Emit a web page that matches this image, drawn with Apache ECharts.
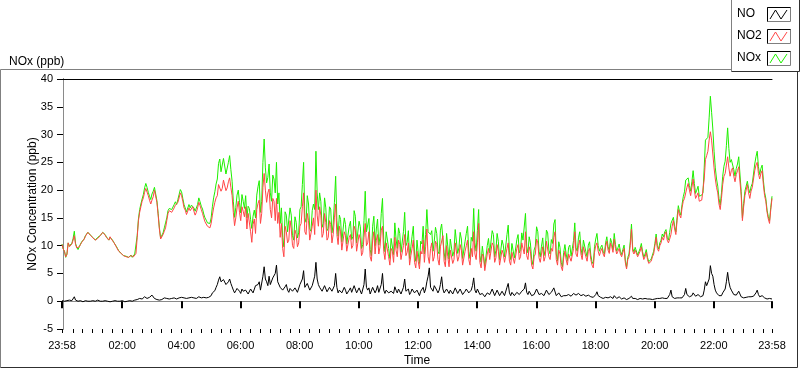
<!DOCTYPE html>
<html><head><meta charset="utf-8">
<script src="https://cdn.jsdelivr.net/npm/echarts@6/dist/echarts.min.js"></script>
<style>html,body{margin:0;padding:0;background:#fff}#c{width:800px;height:369px}</style>
</head><body><div id="c"></div>
<script>
// time of first sample in minutes from 00:00 (23:58 of previous day), one sample every 2.5 min
const START_MIN = -2;
const STEP_MIN = 2.5;
const END_MIN = 1438;

const seriesNames = ['NO', 'NO2', 'NOx'];
const majorTickMinutes = [-2, 120, 240, 360, 480, 600, 720, 840, 960, 1080, 1200, 1320, 1438];
const majorTickLabels = ['23:58', '02:00', '04:00', '06:00', '08:00', '10:00', '12:00', '14:00', '16:00', '18:00', '20:00', '22:00', '23:58'];
const yTicks = [-5, 0, 5, 10, 15, 20, 25, 30, 35, 40];

const NO2 = [
10.2, 9.4, 9.0, 8.0, 8.4, 10.5, 9.8, 10.0, 10.3, 11.0, 11.8, 10.2, 9.6, 9.3, 9.8, 10.2, 10.6, 10.9, 11.2, 11.7, 12.0, 12.4, 12.3, 11.9,
11.6, 11.4, 11.3, 11.0, 11.0, 11.3, 11.4, 11.8, 11.9, 12.4, 12.3, 11.9, 11.5, 11.3, 11.0, 11.6, 11.2, 11.0, 10.6, 10.3, 9.8, 9.5, 9.0, 8.8,
8.6, 8.4, 8.2, 8.1, 8.0, 7.8, 7.9, 8.1, 8.2, 7.9, 8.0, 8.3, 8.6, 11.5, 14.5, 16.0, 17.0, 18.0, 18.6, 19.6, 20.3, 20.0, 19.0, 18.2,
17.5, 18.2, 18.8, 20.0, 19.9, 17.8, 15.5, 13.0, 11.2, 10.9, 12.0, 12.6, 13.2, 14.5, 15.8, 16.3, 16.5, 16.0, 16.2, 16.8, 17.3, 17.0, 17.8, 18.6,
19.5, 19.0, 18.0, 16.8, 16.4, 15.6, 15.8, 16.8, 16.3, 16.6, 17.0, 16.2, 15.5, 16.0, 16.8, 17.8, 17.2, 16.5, 15.8, 15.0, 14.3, 14.0, 13.5, 13.3,
13.2, 14.0, 15.5, 16.8, 17.8, 18.6, 19.0, 21.0, 21.2, 19.8, 20.3, 21.8, 21.6, 19.9, 20.4, 21.5, 22.2, 20.5, 19.0, 16.0, 13.6, 15.0, 16.8, 18.0,
16.0, 14.5, 17.0, 16.2, 15.2, 17.0, 13.0, 15.8, 15.5, 12.5, 10.6, 13.8, 14.8, 12.2, 16.5, 17.6, 18.2, 14.0, 15.8, 20.5, 23.0, 20.0, 17.8, 19.5,
20.2, 16.5, 15.0, 18.5, 18.0, 14.5, 18.5, 14.0, 16.0, 11.5, 14.0, 9.5, 8.0, 13.5, 12.5, 10.5, 11.0, 14.5, 13.0, 10.0, 9.5, 12.8, 12.0, 9.8,
10.5, 13.5, 14.0, 17.0, 19.5, 12.5, 12.0, 15.8, 14.5, 11.0, 10.8, 13.5, 15.0, 12.0, 20.0, 15.5, 13.5, 17.0, 15.5, 11.5, 12.2, 15.8, 14.2, 11.0,
11.5, 14.5, 13.8, 10.5, 12.0, 15.0, 17.5, 12.0, 10.2, 13.5, 12.5, 9.2, 9.5, 12.5, 11.8, 9.0, 9.2, 11.5, 12.0, 9.5, 10.0, 13.5, 12.8, 9.0,
9.0, 12.0, 11.2, 8.2, 8.8, 11.5, 14.0, 10.0, 10.5, 12.5, 8.0, 7.2, 11.0, 12.5, 8.5, 11.0, 12.0, 8.5, 9.8, 12.8, 13.5, 9.0, 7.5, 10.5,
10.5, 8.0, 6.5, 9.5, 9.0, 7.0, 11.5, 9.2, 8.0, 11.0, 10.2, 7.5, 7.5, 10.0, 12.0, 8.2, 8.8, 10.5, 6.5, 8.2, 9.5, 11.0, 7.0, 6.0,
9.0, 7.2, 5.8, 9.0, 8.5, 11.0, 7.0, 9.8, 13.0, 8.0, 6.8, 9.5, 10.5, 7.2, 8.0, 10.8, 10.2, 7.5, 6.5, 9.8, 9.5, 11.8, 7.2, 6.2,
10.0, 8.0, 6.2, 9.2, 9.0, 6.8, 7.5, 10.5, 10.5, 7.2, 8.0, 10.2, 9.2, 6.5, 6.8, 9.0, 10.0, 11.0, 7.5, 6.5, 9.5, 8.0, 12.5, 8.5,
7.5, 10.5, 14.0, 7.0, 6.0, 8.5, 8.0, 5.5, 5.8, 8.5, 9.5, 7.5, 7.2, 10.5, 10.0, 7.0, 7.8, 10.2, 9.0, 6.5, 6.8, 9.2, 8.5, 7.0,
7.0, 9.5, 10.5, 7.2, 6.5, 8.8, 9.0, 6.8, 7.0, 9.5, 10.2, 7.5, 8.0, 10.5, 9.5, 8.5, 12.5, 8.2, 7.5, 9.8, 9.0, 6.5, 5.8, 8.0,
8.5, 11.2, 10.5, 7.8, 7.0, 8.5, 9.8, 7.2, 8.0, 10.8, 10.5, 8.0, 7.5, 9.5, 9.0, 11.5, 12.5, 7.5, 6.5, 9.2, 8.5, 6.2, 5.5, 7.8,
9.0, 7.5, 6.5, 8.5, 8.8, 7.2, 7.0, 9.5, 12.5, 8.5, 8.0, 10.0, 11.0, 8.5, 7.5, 9.8, 10.0, 8.0, 7.2, 9.0, 9.5, 7.5, 6.5, 6.0,
8.8, 10.0, 10.5, 9.0, 8.2, 9.0, 9.5, 8.5, 8.0, 9.8, 10.8, 9.2, 8.6, 10.5, 9.8, 8.8, 11.2, 9.5, 8.5, 9.0, 9.5, 8.5, 8.0, 8.8,
9.5, 7.0, 5.8, 7.5, 8.0, 10.0, 13.0, 9.0, 8.5, 9.2, 9.5, 8.0, 8.2, 9.0, 9.8, 8.5, 7.5, 8.0, 8.8, 7.5, 6.8, 7.0, 7.2, 8.0,
8.5, 10.0, 11.5, 9.5, 9.0, 10.0, 10.5, 11.5, 11.0, 12.0, 12.5, 11.0, 10.5, 11.2, 12.0, 13.5, 14.5, 13.0, 12.0, 14.5, 16.5, 15.5, 15.0, 16.8,
18.0, 18.5, 19.5, 20.5, 21.2, 20.0, 19.0, 20.5, 22.0, 20.0, 18.5, 19.0, 19.5, 18.0, 17.8, 18.2, 18.5, 22.0, 25.5, 26.2, 27.0, 29.0, 30.5, 29.0,
26.5, 24.0, 22.0, 20.5, 19.5, 17.5, 16.5, 18.5, 21.0, 22.5, 23.0, 24.5, 26.0, 24.0, 22.5, 23.5, 24.0, 22.5, 21.5, 22.8, 23.5, 24.2, 24.5, 19.0,
14.5, 17.0, 19.0, 20.0, 21.0, 19.5, 18.5, 19.8, 20.5, 22.0, 23.5, 24.5, 25.0, 23.0, 22.0, 23.0, 23.5, 21.0, 19.0, 18.0, 16.0, 14.8, 14.0, 16.5,
18.5
];

const NO = [
0.1, 0.0, 0.0, -0.1, 0.1, 0.0, 0.2, 0.1, 0.1, 0.3, 0.8, 0.2, 0.1, 0.0, 0.0, 0.1, 0.1, -0.1, 0.0, 0.1, 0.1, 0.0, 0.1, 0.0,
0.0, 0.1, 0.1, 0.0, 0.0, 0.2, 0.1, 0.0, 0.1, 0.0, 0.0, 0.1, 0.1, 0.0, 0.0, -0.1, 0.1, 0.0, 0.0, 0.1, 0.1, 0.0, 0.1, 0.0,
0.0, 0.1, 0.0, -0.1, 0.1, 0.0, 0.0, 0.1, 0.1, 0.0, 0.1, 0.2, 0.2, 0.3, 0.3, 0.5, 0.5, 0.4, 0.6, 0.8, 0.9, 0.5, 0.6, 0.7,
0.8, 1.1, 1.0, 0.5, 0.4, 0.3, 0.3, 0.2, 0.2, 0.3, 0.3, 0.6, 0.9, 0.5, 0.5, 0.4, 0.4, 0.5, 0.5, 0.6, 0.6, 0.4, 0.5, 0.6,
0.6, 0.7, 0.5, 0.6, 0.7, 0.5, 0.6, 0.6, 0.5, 0.7, 0.6, 0.6, 0.7, 0.5, 0.6, 0.8, 0.7, 0.6, 0.8, 0.7, 0.7, 0.6, 0.6, 0.7,
0.8, 1.0, 1.5, 1.8, 1.9, 2.5, 3.0, 3.8, 4.4, 3.5, 3.2, 3.9, 3.8, 3.0, 2.8, 3.5, 4.0, 3.2, 2.6, 2.0, 1.5, 1.9, 2.3, 2.0,
1.8, 1.4, 2.2, 1.8, 1.5, 2.0, 2.0, 1.3, 1.2, 2.2, 2.5, 1.5, 1.6, 2.8, 2.6, 3.0, 3.5, 2.0, 2.2, 4.5, 6.2, 4.0, 3.5, 2.8,
4.5, 3.0, 3.0, 4.2, 4.0, 5.0, 6.5, 3.5, 3.5, 2.5, 2.8, 2.0, 1.8, 2.6, 3.0, 2.0, 1.6, 2.3, 2.5, 1.8, 1.5, 2.4, 2.2, 1.6,
1.8, 3.0, 3.0, 4.0, 5.5, 2.5, 2.2, 3.2, 3.0, 2.0, 1.8, 2.8, 2.5, 4.5, 7.0, 4.0, 3.0, 2.5, 2.4, 1.8, 1.8, 2.8, 2.6, 1.7,
1.6, 2.5, 2.8, 1.8, 1.9, 2.8, 5.0, 2.5, 1.5, 2.0, 2.2, 1.5, 1.4, 2.5, 2.0, 1.3, 1.2, 2.0, 2.4, 1.6, 1.6, 2.8, 2.5, 1.5,
1.5, 2.4, 2.2, 1.3, 1.4, 3.0, 5.8, 2.5, 2.0, 2.4, 1.3, 1.0, 2.5, 2.8, 1.5, 2.0, 2.8, 1.6, 1.8, 3.0, 5.0, 2.0, 1.4, 2.0,
2.2, 1.5, 1.2, 1.8, 2.0, 1.4, 2.6, 2.0, 1.5, 2.2, 2.0, 1.3, 1.3, 2.5, 4.0, 1.8, 1.8, 2.2, 1.2, 1.6, 2.2, 2.5, 1.5, 1.2,
2.0, 1.5, 1.0, 1.8, 1.8, 2.5, 1.5, 2.2, 3.5, 4.5, 6.0, 2.5, 2.2, 1.8, 2.8, 2.5, 2.0, 1.5, 2.0, 3.0, 4.4, 2.2, 1.5, 1.2,
2.2, 1.8, 1.4, 2.0, 2.0, 1.3, 1.5, 2.4, 2.4, 1.4, 1.6, 2.2, 2.0, 1.2, 1.2, 1.8, 2.2, 2.5, 1.5, 1.2, 2.0, 2.8, 4.2, 2.0,
1.5, 2.2, 2.5, 1.2, 1.0, 1.4, 1.6, 0.8, 0.8, 1.5, 1.8, 1.2, 1.2, 2.2, 2.0, 1.0, 1.3, 2.0, 1.8, 1.0, 1.0, 1.8, 1.6, 1.0,
1.2, 2.5, 3.2, 1.5, 1.0, 1.6, 1.6, 1.0, 1.1, 1.6, 1.8, 1.2, 1.3, 1.8, 1.5, 2.2, 3.3, 1.6, 1.2, 1.8, 1.5, 1.0, 0.8, 1.2,
1.4, 2.2, 2.0, 1.2, 1.0, 1.4, 1.6, 1.0, 1.2, 2.0, 1.8, 1.2, 1.0, 1.6, 1.4, 2.4, 2.2, 1.0, 0.8, 1.5, 1.2, 0.8, 0.7, 1.0,
1.2, 1.0, 0.8, 1.2, 1.3, 0.9, 0.9, 1.4, 1.6, 1.1, 1.0, 1.4, 1.5, 1.0, 0.8, 1.2, 1.3, 0.9, 0.8, 1.1, 1.2, 0.8, 0.6, 0.7,
1.0, 1.2, 1.7, 1.0, 0.8, 0.7, 0.6, 0.5, 0.5, 0.7, 0.8, 0.6, 0.5, 0.8, 0.7, 0.5, 1.0, 0.7, 0.5, 0.6, 0.8, 0.5, 0.4, 0.5,
0.6, 0.4, 0.3, 0.4, 0.5, 0.7, 0.9, 0.5, 0.4, 0.5, 0.5, 0.3, 0.3, 0.5, 0.6, 0.4, 0.4, 0.5, 0.5, 0.4, 0.3, 0.4, 0.4, 0.3,
0.5, 0.4, 0.6, 0.5, 0.4, 0.5, 0.5, 0.6, 0.6, 0.5, 0.4, 0.5, 0.5, 1.2, 2.0, 0.8, 0.6, 0.5, 0.5, 0.6, 0.7, 0.6, 0.5, 0.6,
0.8, 1.2, 2.3, 1.2, 1.0, 0.8, 0.8, 1.0, 1.5, 1.2, 0.9, 1.0, 1.2, 0.9, 0.8, 0.9, 1.0, 2.0, 3.5, 2.8, 2.5, 4.0, 6.4, 5.0,
4.5, 3.0, 2.0, 1.5, 1.2, 1.0, 0.8, 1.0, 1.5, 1.8, 2.2, 3.5, 5.2, 3.5, 2.5, 2.0, 1.8, 1.2, 1.0, 1.1, 1.2, 1.8, 1.5, 0.8,
0.5, 0.6, 0.8, 0.7, 0.6, 0.8, 1.0, 0.8, 0.7, 0.9, 1.2, 1.5, 2.0, 1.2, 0.8, 0.9, 1.0, 0.8, 0.6, 0.5, 0.4, 0.4, 0.5, 0.4,
0.4
];

const NOx = [
10.3, 9.4, 9.0, 7.9, 8.5, 10.5, 10.0, 10.1, 10.4, 11.3, 12.6, 10.4, 9.7, 9.3, 9.8, 10.3, 10.7, 10.8, 11.2, 11.8, 12.1, 12.4, 12.4, 11.9,
11.6, 11.5, 11.4, 11.0, 11.0, 11.5, 11.5, 11.8, 12.0, 12.4, 12.3, 12.0, 11.6, 11.3, 11.0, 11.5, 11.3, 11.0, 10.6, 10.4, 9.9, 9.5, 9.1, 8.8,
8.6, 8.5, 8.2, 8.0, 8.1, 7.8, 7.9, 8.2, 8.3, 7.9, 8.1, 8.5, 8.8, 11.8, 14.8, 16.5, 17.5, 18.4, 19.2, 20.4, 21.2, 20.5, 19.6, 18.9,
18.3, 19.3, 19.8, 20.5, 20.3, 18.1, 15.8, 13.2, 11.4, 11.2, 12.3, 13.2, 14.1, 15.0, 16.3, 16.7, 16.9, 16.5, 16.7, 17.4, 17.9, 17.4, 18.3, 19.2,
20.1, 19.7, 18.5, 17.4, 17.1, 16.1, 16.4, 17.4, 16.8, 17.3, 17.6, 16.8, 16.2, 16.5, 17.4, 18.6, 17.9, 17.1, 16.6, 15.7, 15.0, 14.6, 14.1, 14.0,
14.0, 15.0, 17.0, 18.6, 19.7, 21.1, 22.0, 24.8, 25.6, 23.3, 23.5, 25.7, 25.4, 22.9, 23.2, 25.0, 26.2, 23.7, 21.6, 18.0, 15.1, 16.9, 19.1, 20.0,
17.8, 15.9, 19.2, 18.0, 16.7, 19.0, 15.0, 17.1, 16.7, 14.7, 13.1, 15.3, 16.4, 15.0, 19.1, 20.6, 21.7, 16.0, 18.0, 25.0, 29.2, 24.0, 21.3, 22.3,
24.7, 19.5, 18.0, 22.7, 22.0, 19.5, 25.0, 17.5, 19.5, 14.0, 16.8, 11.5, 9.8, 16.1, 15.5, 12.5, 12.6, 16.8, 15.5, 11.8, 11.0, 15.2, 14.2, 11.4,
12.3, 16.5, 17.0, 21.0, 25.0, 15.0, 14.2, 19.0, 17.5, 13.0, 12.6, 16.3, 17.5, 16.5, 27.0, 19.5, 16.5, 19.5, 17.9, 13.3, 14.0, 18.6, 16.8, 12.7,
13.1, 17.0, 16.6, 12.3, 13.9, 17.8, 22.5, 14.5, 11.7, 15.5, 14.7, 10.7, 10.9, 15.0, 13.8, 10.3, 10.4, 13.5, 14.4, 11.1, 11.6, 16.3, 15.3, 10.5,
10.5, 14.4, 13.4, 9.5, 10.2, 14.5, 19.8, 12.5, 12.5, 14.9, 9.3, 8.2, 13.5, 15.3, 10.0, 13.0, 14.8, 10.1, 11.6, 15.8, 18.5, 11.0, 8.9, 12.5,
12.7, 9.5, 7.7, 11.3, 11.0, 8.4, 14.1, 11.2, 9.5, 13.2, 12.2, 8.8, 8.8, 12.5, 16.0, 10.0, 10.6, 12.7, 7.7, 9.8, 11.7, 13.5, 8.5, 7.2,
11.0, 8.7, 6.8, 10.8, 10.3, 13.5, 8.5, 12.0, 16.5, 12.5, 12.8, 12.0, 12.7, 9.0, 10.8, 13.3, 12.2, 9.0, 8.5, 12.8, 13.9, 14.0, 8.7, 7.4,
12.2, 9.8, 7.6, 11.2, 11.0, 8.1, 9.0, 12.9, 12.9, 8.6, 9.6, 12.4, 11.2, 7.7, 8.0, 10.8, 12.2, 13.5, 9.0, 7.7, 11.5, 10.8, 16.7, 10.5,
9.0, 12.7, 16.5, 8.2, 7.0, 9.9, 9.6, 6.3, 6.6, 10.0, 11.3, 8.7, 8.4, 12.7, 12.0, 8.0, 9.1, 12.2, 10.8, 7.5, 7.8, 11.0, 10.1, 8.0,
8.2, 12.0, 13.7, 8.7, 7.5, 10.4, 10.6, 7.8, 8.1, 11.1, 12.0, 8.7, 9.3, 12.3, 11.0, 10.7, 15.8, 9.8, 8.7, 11.6, 10.5, 7.5, 6.6, 9.2,
9.9, 13.4, 12.5, 9.0, 8.0, 9.9, 11.4, 8.2, 9.2, 12.8, 12.3, 9.2, 8.5, 11.1, 10.4, 13.9, 14.7, 8.5, 7.3, 10.7, 9.7, 7.0, 6.2, 8.8,
10.2, 8.5, 7.3, 9.7, 10.1, 8.1, 7.9, 10.9, 14.1, 9.6, 9.0, 11.4, 12.5, 9.5, 8.3, 11.0, 11.3, 8.9, 8.0, 10.1, 10.7, 8.3, 7.1, 6.7,
9.8, 11.2, 12.2, 10.0, 9.0, 9.7, 10.1, 9.0, 8.5, 10.5, 11.6, 9.8, 9.1, 11.3, 10.5, 9.3, 12.2, 10.2, 9.0, 9.6, 10.3, 9.0, 8.4, 9.3,
10.1, 7.4, 6.1, 7.9, 8.5, 10.7, 13.9, 9.5, 8.9, 9.7, 10.0, 8.3, 8.5, 9.5, 10.4, 8.9, 7.9, 8.5, 9.3, 7.9, 7.1, 7.4, 7.6, 8.3,
9.0, 10.4, 12.1, 10.0, 9.4, 10.5, 11.0, 12.1, 11.6, 12.5, 12.9, 11.5, 11.0, 12.4, 14.0, 14.3, 15.1, 13.5, 12.5, 15.1, 17.2, 16.1, 15.5, 17.4,
18.8, 19.7, 21.8, 21.7, 22.2, 20.8, 19.8, 21.5, 23.5, 21.2, 19.4, 20.0, 20.7, 18.9, 18.6, 19.1, 19.5, 24.0, 29.0, 29.0, 29.5, 33.0, 36.9, 34.0,
31.0, 27.0, 24.0, 22.0, 20.7, 18.5, 17.3, 19.5, 22.5, 24.3, 25.2, 28.0, 31.2, 27.5, 25.0, 25.5, 25.8, 23.7, 22.5, 23.9, 24.7, 26.0, 26.0, 19.8,
15.0, 17.6, 19.8, 20.7, 21.6, 20.3, 19.5, 20.6, 21.2, 22.9, 24.7, 26.0, 27.0, 24.2, 22.8, 23.9, 24.5, 21.8, 19.6, 18.5, 16.4, 15.2, 14.5, 16.9,
18.9
];

function toPairs(arr) { return arr.map((v, i) => [START_MIN + i * STEP_MIN, v]); }

const minorTickMinutes = [START_MIN];
for (let m = 20; m < END_MIN; m += 20) minorTickMinutes.push(m);
minorTickMinutes.push(END_MIN);

const FONT = 'Liberation Sans';
const colors = { NO: '#000000', NO2: '#ff4646', NOx: '#1ef000' };

const chart = echarts.init(document.getElementById('c'), null, { renderer: 'canvas' });

function legendItem(name, idx) {
  const y0 = 7 + idx * 22;
  return [
    { type: 'text', left: 737, top: y0 + 1, style: { text: name, font: '12px ' + FONT, fill: '#000' } },
    { type: 'rect', shape: { x: 767.5, y: y0 + 0.5, width: 23, height: 14 }, style: { fill: '#fff', stroke: '#7f7f7f', lineWidth: 1 } },
    { type: 'polyline', shape: { points: [[767.5, y0 + 0.5], [790.5, y0 + 0.5]] }, style: { stroke: '#000', lineWidth: 1 } },
    { type: 'polyline', shape: { points: [[767.5, y0 + 0.5], [767.5, y0 + 14.5]] }, style: { stroke: '#000', lineWidth: 1 } },
    { type: 'polyline', shape: { points: [[770, y0 + 12], [775.5, y0 + 3], [781, y0 + 12], [787, y0 + 3]] }, style: { stroke: colors[name], lineWidth: 1, fill: null } }
  ];
}

const graphics = [
  { type: 'polyline', shape: { points: [[0.5, 69.5], [731.5, 69.5]] }, style: { stroke: '#808080', lineWidth: 1 } },
  { type: 'polyline', shape: { points: [[0.5, 69.5], [0.5, 367.5]] }, style: { stroke: '#808080', lineWidth: 1 } },
  { type: 'polyline', shape: { points: [[0.5, 367.5], [797.5, 367.5]] }, style: { stroke: '#303030', lineWidth: 1 } },
  { type: 'polyline', shape: { points: [[797.5, 71.5], [797.5, 367.5]] }, style: { stroke: '#303030', lineWidth: 1 } },
  { type: 'polyline', shape: { points: [[731.5, 0], [731.5, 71.5]] }, style: { stroke: '#808080', lineWidth: 1 } },
  { type: 'polyline', shape: { points: [[731.5, 71.5], [799.5, 71.5]] }, style: { stroke: '#303030', lineWidth: 1 } },
  { type: 'polyline', shape: { points: [[799.5, 0], [799.5, 71.5]] }, style: { stroke: '#303030', lineWidth: 1 } }
];
seriesNames.forEach((n, i) => graphics.push(...legendItem(n, i)));

const hiddenX = (extra) => Object.assign({
  type: 'value', min: START_MIN, max: END_MIN, position: 'bottom',
  axisLine: { show: false }, axisTick: { show: false }, axisLabel: { show: false }, splitLine: { show: false }
}, extra);

chart.setOption({
  animation: false,
  backgroundColor: '#ffffff',
  textStyle: { fontFamily: FONT },
  title: { text: 'NOx (ppb)', left: 4, top: 51, textStyle: { fontFamily: FONT, fontSize: 12, fontWeight: 'normal', color: '#000' } },
  grid: { left: 62, right: 28, top: 79, bottom: 40, containLabel: false, outerBoundsMode: 'none' },
  xAxis: [
    {
      type: 'value', min: START_MIN, max: END_MIN,
      name: 'Time', nameLocation: 'middle', nameGap: 26, nameMoveOverlap: false,
      nameTextStyle: { fontFamily: FONT, fontSize: 12, color: '#000' },
      axisLine: { show: true, lineStyle: { color: '#8a8a8a', width: 1 } },
      axisTick: { show: false },
      axisLabel: { show: true, customValues: majorTickMinutes, margin: 11, fontFamily: FONT, fontSize: 11, color: '#000',
        formatter: v => { const k = majorTickMinutes.indexOf(v); return k >= 0 ? majorTickLabels[k] : ''; } },
      splitLine: { show: false }
    },
    hiddenX({ axisTick: { show: true, customValues: majorTickMinutes, length: 7, lineStyle: { color: '#000', width: 2 } } }),
    hiddenX({ axisTick: { show: true, customValues: minorTickMinutes, length: 4, lineStyle: { color: '#000', width: 1 } } }),
    hiddenX({ position: 'top', axisLine: { show: true, lineStyle: { color: '#000' } } })
  ],
  yAxis: [
    {
      type: 'value', min: yTicks[0], max: yTicks[yTicks.length - 1], interval: 5,
      name: 'NOx Concentration (ppb)', nameLocation: 'middle', nameGap: 23, nameRotate: 90, nameMoveOverlap: false,
      nameTextStyle: { fontFamily: FONT, fontSize: 12, color: '#000' },
      axisLine: { show: true, lineStyle: { color: '#000' } },
      axisTick: { show: true, length: 6, lineStyle: { color: '#000' } },
      axisLabel: { margin: 9, fontFamily: FONT, fontSize: 11, color: '#000' },
      splitLine: { show: false }
    },
    {
      type: 'value', min: yTicks[0], max: yTicks[yTicks.length - 1], position: 'right',
      axisLine: { show: true, lineStyle: { color: '#8a8a8a' } },
      axisTick: { show: false }, axisLabel: { show: false }, splitLine: { show: false }
    }
  ],
  series: [
    { name: 'NOx', type: 'line', data: toPairs(NOx), showSymbol: false, symbol: 'none', lineStyle: { color: colors.NOx, width: 1 }, z: 2 },
    { name: 'NO2', type: 'line', data: toPairs(NO2), showSymbol: false, symbol: 'none', lineStyle: { color: colors.NO2, width: 1 }, z: 3 },
    { name: 'NO', type: 'line', data: toPairs(NO), showSymbol: false, symbol: 'none', lineStyle: { color: colors.NO, width: 1 }, z: 4 }
  ],
  graphic: graphics
});
</script>
</body></html>
